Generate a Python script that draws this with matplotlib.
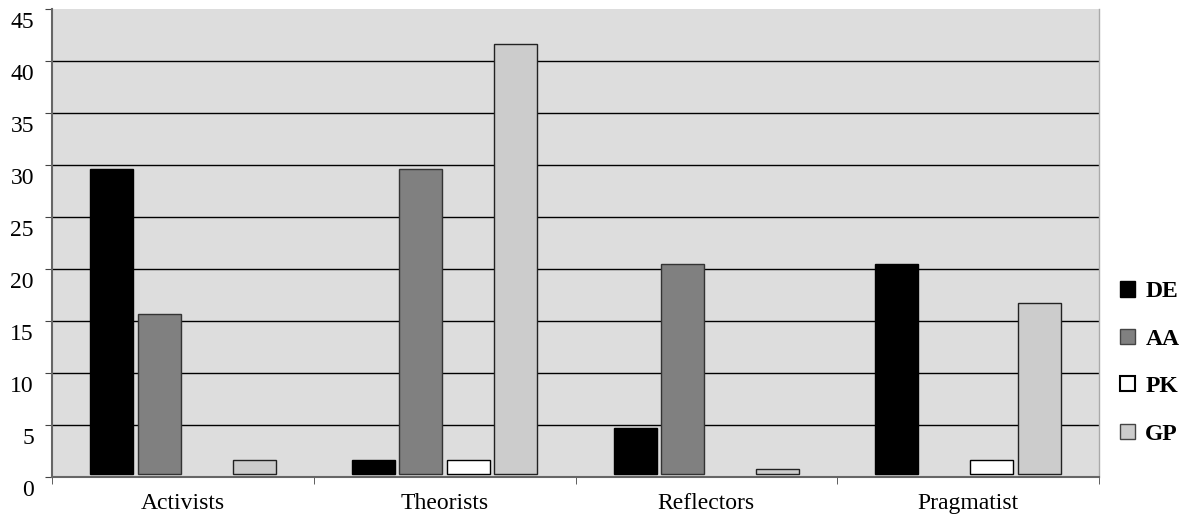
import numpy as np
import matplotlib
matplotlib.use("Agg")
import matplotlib.pyplot as plt
from matplotlib.patches import Patch
import matplotlib.transforms as mtransforms

categories = ['Activists', 'Theorists', 'Reflectors', 'Pragmatist']
series_names = ['DE', 'AA', 'PK', 'GP']
DE = [29.6, 1.6, 4.7, 20.5]
AA = [15.6, 29.6, 20.5, 0]
PK = [0, 1.6, 0, 1.6]
GP = [1.6, 41.6, 0.7, 16.7]
yticks = [0, 5, 10, 15, 20, 25, 30, 35, 40, 45]

colors = ['#000000', '#808080', '#ffffff', '#cccccc']
edges = ['#000000', '#333333', '#000000', '#222222']
series = [DE, AA, PK, GP]

plt.rcParams['font.family'] = ['Liberation Serif', 'DejaVu Serif']

fig = plt.figure(figsize=(11.87, 5.17), dpi=100)
ax = fig.add_axes([0.0438, 0.078, 0.9259 - 0.0438, 0.983 - 0.078])
ax.set_facecolor('#dddddd')

base = 0.3
pitch = 0.1815
width = 0.164
x = np.arange(len(categories))

ax.hlines(yticks[1:-1], -0.5, 3.5, colors='black', linewidth=1.0, zorder=1)

for i, (vals, c, ec) in enumerate(zip(series, colors, edges)):
    vals = np.array(vals, dtype=float)
    m = vals > 0
    ax.bar(x[m] + (i - 1.5) * pitch, vals[m] - base, bottom=base, width=width,
           color=c, edgecolor=ec, linewidth=1.0, zorder=3)

ax.set_xlim(-0.5, 3.5)
ax.set_ylim(0, 45)
ax.set_yticks(yticks)
ax.set_yticklabels([str(t) for t in yticks], fontsize=17)
ax.set_xticks(x)
ax.set_xticklabels(categories, fontsize=17)
ax.set_xticks(np.arange(-0.5, 4.0, 1.0), minor=True)
ax.tick_params(axis='x', which='major', length=0, pad=12)
ax.tick_params(axis='x', which='minor', length=5, color='#444444', direction='out')
ax.tick_params(axis='y', length=5, color='#444444', direction='out', pad=8)

off = mtransforms.ScaledTranslation(0, -11 / 100, fig.dpi_scale_trans)
for lab in ax.get_yticklabels():
    lab.set_transform(lab.get_transform() + off)

for s in ['left', 'bottom']:
    ax.spines[s].set_color('#666666')
    ax.spines[s].set_linewidth(1.5)
ax.spines['top'].set_visible(False)
ax.spines['right'].set_color('#aaaaaa')
ax.spines['right'].set_linewidth(1.0)

handles = [Patch(facecolor=c, edgecolor=('#000000' if n in ('DE', 'PK') else '#444444'),
                 linewidth=1.5 if n == 'PK' else 1.0)
           for n, c in zip(series_names, colors)]
leg = fig.legend(handles, series_names, loc='center left', bbox_to_anchor=(0.9436, 0.298),
                 frameon=False, prop={'family': 'Liberation Serif', 'weight': 'bold', 'size': 17},
                 handlelength=0.62, handleheight=0.62, handletextpad=0.45,
                 labelspacing=1.12, borderpad=0, borderaxespad=0)

fig.savefig('out.png', dpi=100)
